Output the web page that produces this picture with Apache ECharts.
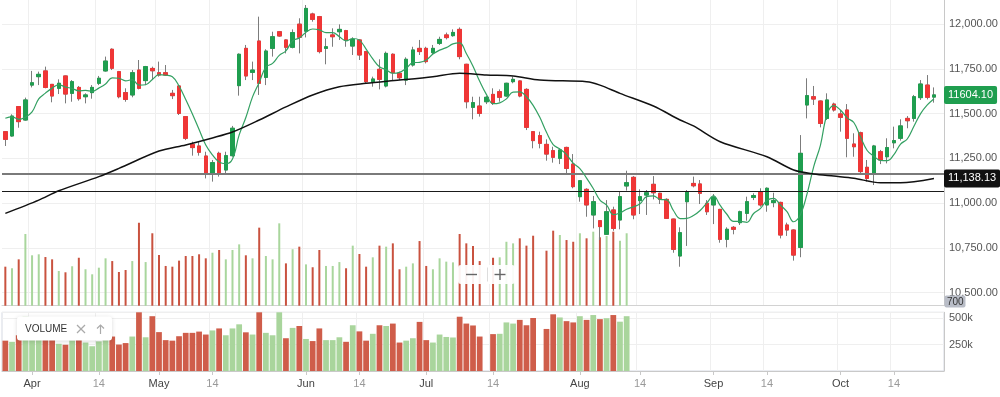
<!DOCTYPE html>
<html>
<head>
<meta charset="utf-8">
<title>Price chart</title>
<script src="https://cdn.jsdelivr.net/npm/echarts@6/dist/echarts.min.js"></script>
<style>
  html, body { margin: 0; padding: 0; background: #fff; }
  #chart { width: 1000px; height: 397px; }
</style>
</head>
<body>
<div id="chart"></div>
<script>
// daily candles (open / close / low / high)
const opens = [
  11399, 11375, 11539, 11464, 11659, 11706, 11738, 11663, 11641, 11710,
  11613, 11646, 11594, 11617, 11669, 11738, 11859, 11734, 11617, 11604,
  11743, 11684, 11752, 11728, 11728, 11613, 11654, 11483, 11328, 11319,
  11263, 11161, 11278, 11185, 11265, 11656, 11864, 11730, 11905, 11702,
  11864, 11957, 11911, 11870, 11999, 11960, 12056, 12041, 11864, 11939,
  11957, 11963, 11877, 11911, 11846, 11678, 11747, 11654, 11831, 11725,
  11687, 11771, 11864, 11864, 11840, 11892, 11939, 11935, 11970, 11775,
  11535, 11542, 11566, 11607, 11622, 11598, 11678, 11682, 11635, 11399,
  11377, 11328, 11293, 11250, 11311, 11218, 11036, 11077, 10934, 10902,
  10826, 10962, 10906, 11096, 11144, 11014, 11045, 11105, 11055, 11021,
  10911, 10705, 11008, 11110, 11107, 10999, 10990, 10965, 10798, 10865,
  10891, 10943, 11032, 11064, 10990, 11003, 11004, 10878, 10850, 10753,
  11548, 11594, 11570, 11473, 11553, 11498, 11520, 11330, 11393, 11200,
  11166, 11287, 11259, 11337, 11362, 11473, 11473, 11589, 11659, 11592
];
const closes = [
  11356, 11486, 11455, 11576, 11672, 11719, 11646, 11598, 11669, 11609,
  11678, 11583, 11604, 11646, 11697, 11793, 11753, 11594, 11579, 11728,
  11641, 11762, 11739, 11715, 11715, 11600, 11501, 11362, 11310, 11284,
  11161, 11226, 11166, 11265, 11418, 11831, 11710, 11743, 11669, 11849,
  11929, 11933, 11870, 11952, 11926, 12087, 12026, 11846, 11873, 11929,
  11970, 11911, 11914, 11827, 11678, 11693, 11691, 11836, 11728, 11700,
  11803, 11855, 11846, 11790, 11864, 11914, 11924, 11953, 11818, 11566,
  11561, 11501, 11591, 11557, 11591, 11669, 11691, 11598, 11423, 11349,
  11334, 11274, 11256, 11297, 11194, 11092, 11125, 10990, 11008, 10869,
  10952, 10859, 11036, 11114, 10934, 11036, 11058, 11058, 11021, 10915,
  10742, 10835, 11064, 11097, 11055, 10952, 11032, 10798, 10854, 10854,
  10952, 11008, 11042, 10990, 11083, 11014, 10822, 10850, 10710, 11278,
  11600, 11581, 11445, 11576, 11520, 11479, 11362, 11315, 11176, 11138,
  11319, 11241, 11310, 11349, 11431, 11460, 11594, 11665, 11591, 11604.1
];
const lows = [
  11319, 11371, 11421, 11460, 11646, 11659, 11641, 11563, 11609, 11557,
  11566, 11572, 11557, 11583, 11659, 11734, 11743, 11585, 11566, 11591,
  11635, 11659, 11687, 11706, 11710, 11581, 11492, 11352, 11265, 11265,
  11138, 11120, 11148, 11157, 11259, 11600, 11687, 11687, 11604, 11659,
  11818, 11929, 11836, 11864, 11836, 11925, 12013, 11836, 11775, 11873,
  11911, 11873, 11827, 11799, 11669, 11650, 11635, 11646, 11687, 11687,
  11659, 11762, 11827, 11780, 11827, 11883, 11914, 11929, 11803, 11529,
  11468, 11483, 11553, 11548, 11566, 11594, 11669, 11591, 11408, 11306,
  11306, 11237, 11226, 11218, 11166, 11083, 11008, 10924, 10859, 10794,
  10822, 10846, 10854, 11070, 10910, 10939, 10934, 11021, 10995, 10912,
  10723, 10645, 10761, 11088, 10995, 10934, 10883, 10779, 10753, 10826,
  10878, 10902, 11017, 10980, 10952, 10977, 10803, 10817, 10679, 10698,
  11473, 11548, 11423, 11464, 11511, 11399, 11256, 11259, 11166, 11120,
  11101, 11218, 11222, 11306, 11349, 11418, 11455, 11576, 11579, 11561
];
const highs = [
  11402, 11496, 11542, 11589, 11738, 11734, 11762, 11665, 11691, 11712,
  11687, 11654, 11613, 11659, 11710, 11818, 11864, 11738, 11641, 11743,
  11799, 11766, 11762, 11790, 11771, 11632, 11659, 11485, 11343, 11343,
  11287, 11241, 11287, 11287, 11431, 11836, 11883, 11790, 12041, 11859,
  11957, 11961, 11914, 11970, 12032, 12106, 12063, 12045, 11920, 11976,
  11998, 11967, 11926, 11915, 11850, 11706, 11803, 11846, 11836, 11734,
  11814, 11873, 11911, 11873, 11883, 11929, 11952, 11970, 11981, 11778,
  11594, 11594, 11598, 11641, 11635, 11672, 11706, 11685, 11641, 11402,
  11399, 11356, 11315, 11306, 11315, 11274, 11129, 11083, 11040, 10905,
  11017, 10980, 11064, 11181, 11151, 11077, 11073, 11151, 11058, 11027,
  10913, 10865, 11073, 11148, 11129, 11017, 11051, 10968, 10865, 10872,
  10958, 11036, 11055, 11083, 11088, 11058, 11008, 10891, 10854, 11380,
  11697, 11654, 11573, 11613, 11561, 11520, 11553, 11390, 11399, 11241,
  11325, 11297, 11362, 11427, 11468, 11486, 11604, 11687, 11715, 11646
];

// volume in thousands (feed stops after the 94th day, two days missing)
const volumes = [
  288, 277, 339, 515, 367, 374, 355, 339, 258, 249,
  291, 350, 270, 235, 281, 346, 327, 251, 265, 327,
  593, 320, 520, 369, 293, 288, 330, 362, 362, 374,
  346, 385, 404, 339, 404, 443, 367, 346, 559, 362,
  339, 589, 311, 409, 427, 304, 284, 404, 293, 293,
  320, 277, 434, 376, 288, 353, 434, 427, 450, 270,
  288, 311, 466, 293, 270, 346, 323, 318, 515, 450,
  432, 327, null, 350, 353, 461, 450, 485, 434, 503,
  null, 399, 538, 508, 473, 461, 520, 485, 531, 492,
  501, 531, 468, 520
];

// short moving average (green)
const maShort = [
  11474, 11482, 11468, 11480, 11509, 11582, 11614, 11642, 11661, 11648,
  11640, 11627, 11629, 11624, 11642, 11665, 11699, 11697, 11683, 11689,
  11659, 11661, 11690, 11717, 11714, 11706, 11654, 11579, 11498, 11411,
  11324, 11269, 11229, 11220, 11247, 11381, 11478, 11593, 11674, 11760,
  11780, 11825, 11850, 11907, 11922, 11954, 11972, 11967, 11952, 11952,
  11929, 11906, 11919, 11910, 11860, 11805, 11761, 11745, 11725, 11730,
  11752, 11784, 11786, 11799, 11832, 11854, 11868, 11889, 11895, 11835,
  11764, 11680, 11607, 11555, 11560, 11582, 11620, 11621, 11594, 11546,
  11479, 11396, 11327, 11302, 11271, 11223, 11193, 11140, 11082, 11017,
  10989, 10936, 10945, 10966, 10979, 10996, 11036, 11040, 11021, 11018,
  10959, 10914, 10915, 10931, 10959, 11001, 11040, 10987, 10938, 10898,
  10898, 10893, 10942, 10969, 11015, 11027, 10990, 10952, 10896, 10935,
  11052, 11204, 11323, 11496, 11544, 11520, 11476, 11450, 11370, 11294,
  11262, 11238, 11237, 11271, 11330, 11358, 11429, 11500, 11548, 11583
];

// long moving average (black), read at [day, value]
const maLong = [
  [0, 10943], [5, 11017], [8, 11069], [14, 11148], [17, 11194], [23, 11291],
  [27, 11325], [31, 11364], [34, 11397], [38, 11464], [42, 11537], [46, 11604],
  [50, 11650], [54, 11669], [59, 11687], [64, 11706], [68, 11725], [72, 11715],
  [76, 11710], [80, 11687], [87, 11678], [89, 11659], [92, 11613], [97, 11542],
  [101, 11464], [103, 11431], [107, 11343], [114, 11259], [118, 11185], [121, 11163],
  [124, 11151], [127, 11139], [131, 11114], [134, 11114], [139, 11138.13]
];

// drawn support lines
const levels = [11164, 11066];

// x axis ticks: day index and label
const tickIdx = [4, 14, 23, 31, 45, 53, 63, 73, 86, 95, 106, 114, 125, 133];
const tickText = ['Apr', '14', 'May', '14', 'Jun', '14', 'Jul', '14', 'Aug', '14', 'Sep', '14', 'Oct', '14'];

const slotCount = 141;
const slots = Array.from({ length: slotCount }, (_, i) => String(i));

const FONT = "'Helvetica Neue', Arial, 'Liberation Sans', sans-serif";
const UP = '#1f9e4f';
const DOWN = '#ef3636';
const WICK = '#7c7c7c';

const fmtPrice = v => v.toLocaleString('en-US', { minimumFractionDigits: 2, maximumFractionDigits: 2 });
const isTick = i => tickIdx.includes(Number(i));

const candleData = opens.map((o, i) => [o, closes[i], lows[i], highs[i]]);
const bodyData = opens.map((o, i) => [o, closes[i], Math.min(o, closes[i]), Math.max(o, closes[i])]);

function volumeBars(upColor, downColor) {
  return volumes.map((v, i) => {
    if (v == null) return '-';
    const prev = i === 0 ? opens[0] : closes[i - 1];
    return { value: v, itemStyle: { color: closes[i] > prev ? upColor : downColor } };
  });
}

const lastClose = closes[closes.length - 1];
const lastLong = maLong[maLong.length - 1][1];

// invisible line that only carries a price tag on the right axis
function priceTag(value, text, bg) {
  return {
    yAxis: value,
    lineStyle: { color: 'rgba(0,0,0,0)', width: 0 },
    label: {
      show: true, position: 'end', distance: 0, formatter: text,
      backgroundColor: bg, color: '#fff', fontSize: 11, fontFamily: FONT,
      padding: [4, 4, 3, 4], borderRadius: 2
    }
  };
}

const chart = echarts.init(document.getElementById('chart'), null, { renderer: 'canvas' });

const options = {
  animation: false,
  backgroundColor: '#fff',
  textStyle: { fontFamily: FONT },
  grid: [
    // price pane (scale extends above the canvas so ticks land on round numbers)
    { left: 2, right: 56, top: -20.78, height: 313.48, outerBoundsMode: 'none', containLabel: false },
    // volume overlay inside the price pane
    { left: 2, right: 56, top: 0, height: 305.7, outerBoundsMode: 'none', containLabel: false },
    // volume pane
    { left: 2, right: 56, top: 312.3, height: 58.7, show: true, borderColor: '#d5d9e2', borderWidth: 1,
      outerBoundsMode: 'none', containLabel: false }
  ],
  xAxis: [
    { type: 'category', gridIndex: 0, data: slots, show: false },
    {
      type: 'category', gridIndex: 1, data: slots,
      axisLine: { lineStyle: { color: '#d2d2d2' } },
      axisTick: { show: false },
      axisLabel: { show: false },
      splitLine: { show: true, interval: isTick, lineStyle: { color: '#efefef', width: 1 } }
    },
    {
      type: 'category', gridIndex: 2, data: slots,
      axisLine: { lineStyle: { color: '#c9c9c9' } },
      axisTick: { show: true, alignWithLabel: true, interval: isTick, length: 4, lineStyle: { color: '#c9c9c9' } },
      axisLabel: {
        interval: isTick,
        margin: 7,
        fontSize: 11,
        formatter: v => {
          const t = tickText[tickIdx.indexOf(Number(v))];
          return /^\d/.test(t) ? '{d|' + t + '}' : '{m|' + t + '}';
        },
        rich: {
          m: { color: '#444', fontSize: 11, fontFamily: FONT },
          d: { color: '#999', fontSize: 11, fontFamily: FONT }
        }
      },
      splitLine: { show: true, interval: isTick, lineStyle: { color: '#efefef' } }
    }
  ],
  yAxis: [
    {
      type: 'value', gridIndex: 0, position: 'right',
      min: 10500, max: 12250, interval: 250,
      axisLine: { show: false }, axisTick: { show: false },
      axisLabel: { formatter: fmtPrice, color: '#555', fontSize: 11, margin: 5 },
      splitLine: { lineStyle: { color: '#efefef' } }
    },
    {
      type: 'value', gridIndex: 1, position: 'right',
      min: 17, max: 2140,
      axisLine: { show: true, lineStyle: { color: '#c8c8c8' } },
      axisTick: { show: false }, axisLabel: { show: false }, splitLine: { show: false }
    },
    {
      type: 'value', gridIndex: 2, position: 'right',
      min: 0, max: 557, interval: 250,
      axisLine: { show: true, lineStyle: { color: '#c8c8c8' } },
      axisTick: { show: false },
      axisLabel: { formatter: v => v + 'k', color: '#555', fontSize: 11, margin: 5, showMinLabel: false, showMaxLabel: false },
      splitLine: { lineStyle: { color: '#efefef' } }
    }
  ],
  series: [
    {
      name: 'VolumeOverlay', type: 'bar', xAxisIndex: 1, yAxisIndex: 1,
      data: volumeBars('#a9d69d', '#c9523f'), barWidth: 2, z: 1
    },
    {
      name: 'Wicks', type: 'candlestick', xAxisIndex: 0, yAxisIndex: 0,
      data: candleData, barWidth: 4, z: 3,
      itemStyle: { color: WICK, color0: WICK, borderColor: WICK, borderColor0: WICK, borderWidth: 1 }
    },
    {
      name: 'Price', type: 'candlestick', xAxisIndex: 0, yAxisIndex: 0,
      data: bodyData, barWidth: 4, z: 4,
      itemStyle: { color: UP, color0: DOWN, borderColor: UP, borderColor0: DOWN, borderWidth: 1 },
      markLine: {
        silent: true, symbol: ['none', 'none'], animation: false,
        label: { show: false },
        data: [
          { yAxis: levels[0], lineStyle: { color: '#7a7a7a', width: 2, type: 'solid' } },
          { yAxis: levels[1], lineStyle: { color: '#1a1a1a', width: 1.2, type: 'solid' } },
          priceTag(lastClose, lastClose.toFixed(2), UP)
        ]
      }
    },
    {
      name: 'MA short', type: 'line', xAxisIndex: 0, yAxisIndex: 0,
      data: maShort, smooth: 0.4, symbol: 'none', z: 5,
      lineStyle: { color: '#33a062', width: 1.2 }
    },
    {
      name: 'MA long', type: 'line', xAxisIndex: 0, yAxisIndex: 0,
      data: maLong, smooth: 0.3, symbol: 'none', z: 5,
      lineStyle: { color: '#111', width: 1.5 },
      markLine: {
        silent: true, symbol: ['none', 'none'], animation: false,
        data: [priceTag(lastLong, fmtPrice(lastLong), '#111')]
      }
    },
    {
      name: 'Volume', type: 'bar', xAxisIndex: 2, yAxisIndex: 2,
      data: volumeBars('#a9d59c', '#cf5d4a'), barCategoryGap: '14%', z: 2
    }
  ],
  graphic: [
    // legend chip of the volume pane
    { type: 'rect', shape: { x: 17, y: 316.5, width: 95, height: 24, r: 3 }, z: 100,
      style: { fill: '#fff', shadowBlur: 4, shadowColor: 'rgba(0,0,0,0.15)', shadowOffsetY: 1 } },
    { type: 'text', x: 25, y: 329, z: 101,
      style: { text: 'VOLUME', fill: '#333', font: '10px ' + FONT, verticalAlign: 'middle' } },
    { type: 'polyline', z: 101, shape: { points: [[77, 325], [85, 333]] }, style: { stroke: '#aaa', lineWidth: 1.2, fill: null } },
    { type: 'polyline', z: 101, shape: { points: [[85, 325], [77, 333]] }, style: { stroke: '#aaa', lineWidth: 1.2, fill: null } },
    { type: 'polyline', z: 101, shape: { points: [[100.5, 325], [100.5, 334]] }, style: { stroke: '#aaa', lineWidth: 1.2, fill: null } },
    { type: 'polyline', z: 101, shape: { points: [[97, 328.5], [100.5, 325], [104, 328.5]] }, style: { stroke: '#aaa', lineWidth: 1.2, fill: null } },
    // zoom buttons
    { type: 'rect', shape: { x: 458, y: 265, width: 57, height: 19, r: 3 }, z: 100,
      style: { fill: 'rgba(255,255,255,0.92)' } },
    { type: 'polyline', z: 101, shape: { points: [[466, 274.5], [477, 274.5]] }, style: { stroke: '#666', lineWidth: 1.4, fill: null } },
    { type: 'polyline', z: 101, shape: { points: [[487.5, 267.5], [487.5, 281.5]] }, style: { stroke: '#ddd', lineWidth: 1, fill: null } },
    { type: 'polyline', z: 101, shape: { points: [[494.5, 274.5], [505.5, 274.5]] }, style: { stroke: '#666', lineWidth: 1.4, fill: null } },
    { type: 'polyline', z: 101, shape: { points: [[500, 269], [500, 280]] }, style: { stroke: '#666', lineWidth: 1.4, fill: null } },
    // value chip at the foot of the price axis
    { type: 'rect', shape: { x: 944.5, y: 295.5, width: 21, height: 12, r: 2 }, z: 100,
      style: { fill: '#b9bdc7' } },
    { type: 'text', x: 947, y: 301.8, z: 101,
      style: { text: '700', fill: '#333', font: '10px ' + FONT, verticalAlign: 'middle' } }
  ]
};

chart.setOption(options);
window.addEventListener('resize', () => chart.resize());
</script>
</body>
</html>
